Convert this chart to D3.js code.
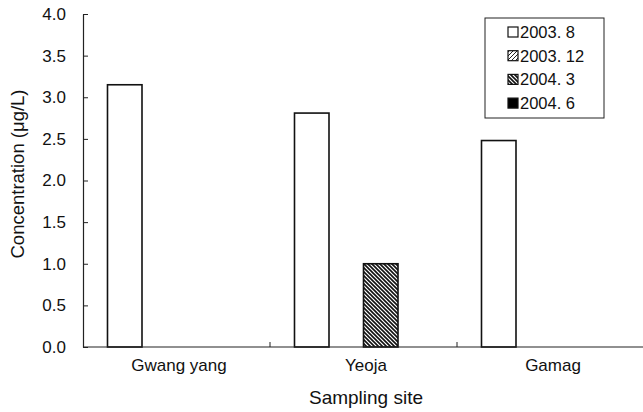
<!DOCTYPE html>
<html><head><meta charset="utf-8">
<script src="https://cdn.jsdelivr.net/npm/d3@7"></script>
<style>body{margin:0;background:#fff}svg{display:block}text{font-family:"Liberation Sans",Arial,sans-serif;fill:#111}</style>
</head><body>
<script>
const categories = ["Gwang yang", "Yeoja", "Gamag"];
const seriesNames = ["2003. 8", "2003. 12", "2004. 3", "2004. 6"];
const s2003_8  = [3.15, 2.81, 2.48];
const s2003_12 = [0, 0, 0];
const s2004_3  = [0, 1.0, 0];
const s2004_6  = [0, 0, 0];
const yTicks = [0, 0.5, 1.0, 1.5, 2.0, 2.5, 3.0, 3.5, 4.0];
const seriesValues = [s2003_8, s2003_12, s2004_3, s2004_6];

const W = 643, H = 412;
const svg = d3.select("body").append("svg").attr("width", W).attr("height", H);
const defs = svg.append("defs");
// pattern for 2003.12 (///)
const p1 = defs.append("pattern").attr("id","hatch1").attr("patternUnits","userSpaceOnUse")
  .attr("width",4).attr("height",4);
p1.append("rect").attr("width",4).attr("height",4).attr("fill","#fff");
p1.append("path").attr("d","M-1,1 l2,-2 M0,4 l4,-4 M3,5 l2,-2").attr("stroke","#222").attr("stroke-width",1);
// pattern for 2004.3 (\\\ dense)
const p2 = defs.append("pattern").attr("id","hatch2").attr("patternUnits","userSpaceOnUse")
  .attr("width",4).attr("height",4);
p2.append("rect").attr("width",4).attr("height",4).attr("fill","#fff");
p2.append("path").attr("d","M-1,3 l2,2 M0,0 l4,4 M3,-1 l2,2").attr("stroke","#111").attr("stroke-width",1.6);

const fills = ["#fff", "url(#hatch1)", "url(#hatch2)", "#000"];

const x0 = d3.scaleBand().domain(categories).range([83, 644]).paddingInner(0).paddingOuter(0);
const x1 = d3.scaleBand().domain(seriesNames).range([0, x0.bandwidth()]).paddingInner(0).paddingOuter(0.71);
const y = d3.scaleLinear().domain([0, 4]).range([347, 14]);

// bars
categories.forEach((c, ci) => {
  seriesNames.forEach((s, si) => {
    const v = seriesValues[si][ci];
    if (v <= 0) return;
    svg.append("rect")
      .attr("x", x0(c) + x1(s)).attr("y", y(v))
      .attr("width", x1.bandwidth()).attr("height", y(0) - y(v))
      .attr("fill", fills[si]).attr("stroke", "#111").attr("stroke-width", 1.6);
  });
});

// y axis
const yAxis = d3.axisLeft(y).tickValues(yTicks).tickFormat(d3.format(".1f")).tickSizeInner(-5).tickSizeOuter(0).tickPadding(17);
const gy = svg.append("g").attr("transform", "translate(83,0)").call(yAxis);
gy.select(".domain").attr("stroke", "#222").attr("stroke-width", 1.2);
gy.selectAll(".tick line").attr("stroke", "#222");
gy.selectAll("text").attr("font-size", 17).style("font-family", "Liberation Sans, Arial, sans-serif").attr("fill","#111");

// x axis
const boundaries = categories.map(c => x0(c)).concat([x0.range()[1]]);
svg.append("line").attr("x1", 83).attr("x2", 643).attr("y1", y(0)).attr("y2", y(0)).attr("stroke", "#222").attr("stroke-width", 1.2);
svg.selectAll(".xt").data(boundaries.slice(1)).enter().append("line")
  .attr("x1", d => d).attr("x2", d => d).attr("y1", y(0)).attr("y2", y(0) - 5).attr("stroke", "#222");
svg.selectAll(".xl").data(categories).enter().append("text")
  .attr("x", d => x0(d) + x0.bandwidth() / 2 + 2.5).attr("y", 371)
  .attr("text-anchor", "middle").attr("font-size", 17).text(d => d);

// axis titles
svg.append("text").attr("x", 366).attr("y", 404).attr("text-anchor", "middle").attr("font-size", 19).text("Sampling site");
svg.append("text").attr("transform", "translate(24,174) rotate(-90)").attr("text-anchor", "middle").attr("font-size", 18.5).text("Concentration (\u03bcg/L)");

// legend
const lg = svg.append("g");
lg.append("rect").attr("x", 485).attr("y", 18).attr("width", 119).attr("height", 100).attr("fill", "#fff").attr("stroke", "#222").attr("stroke-width", 1);
seriesNames.forEach((s, i) => {
  const cy = 32 + i * 23.7;
  lg.append("rect").attr("x", 508).attr("y", cy - 5).attr("width", 10).attr("height", 10)
    .attr("fill", fills[i]).attr("stroke", "#111").attr("stroke-width", 1.2);
  lg.append("text").attr("x", 520).attr("y", cy + 6).attr("font-size", 16.5).text(s);
});
</script>
</body></html>
